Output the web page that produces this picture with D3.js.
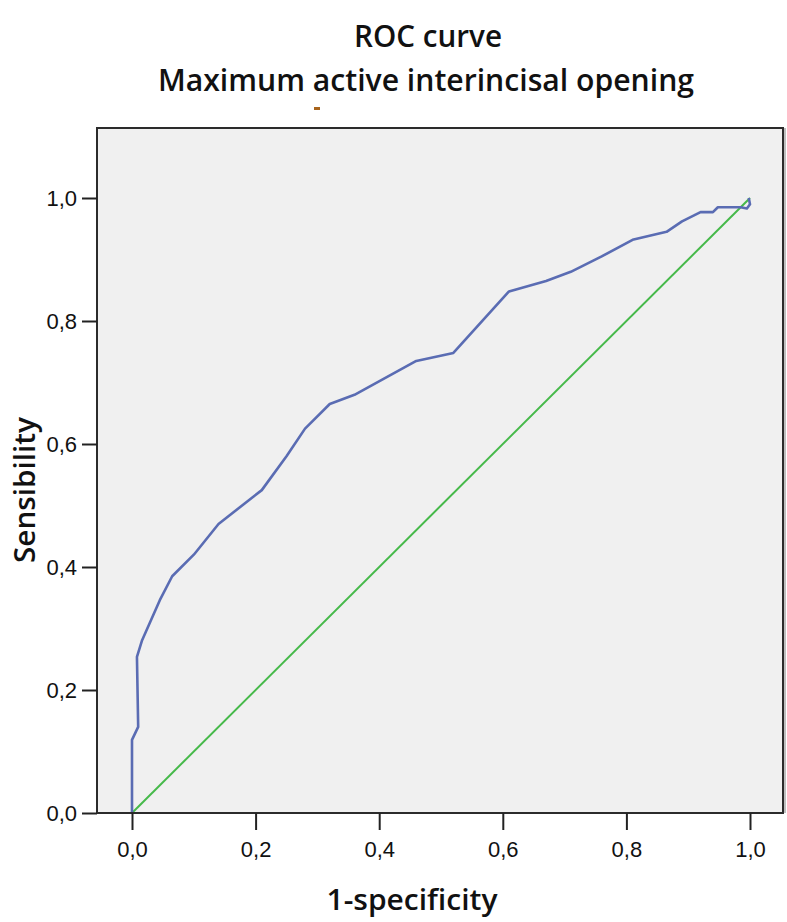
<!DOCTYPE html>
<html>
<head>
<meta charset="utf-8">
<script src="https://cdn.jsdelivr.net/npm/d3@7"></script>
<style>
  body { margin: 0; background: #fff; }
  svg text { fill: #111; }
</style>
</head>
<body>
<div id="chart"></div>
<script>
const WIDTH = 787, HEIGHT = 922;
const FRAME = { LEFT: 97, RIGHT: 783, TOP: 128, BOTTOM: 813 };

// ROC curve points (1-specificity, sensibility)
const rocX = [0, 0, 0.01, 0.008, 0.016, 0.045, 0.065, 0.10, 0.14, 0.21, 0.25, 0.28, 0.32, 0.36, 0.46, 0.52, 0.61, 0.67, 0.71, 0.76, 0.81, 0.865, 0.89, 0.92, 0.94, 0.948, 0.985, 0.995, 1.0, 0.998];
const rocY = [0, 0.119, 0.14, 0.254, 0.28, 0.346, 0.385, 0.42, 0.47, 0.525, 0.58, 0.625, 0.665, 0.68, 0.735, 0.748, 0.848, 0.865, 0.88, 0.905, 0.932, 0.945, 0.962, 0.977, 0.977, 0.985, 0.985, 0.983, 0.99, 1.0];
const refX = [0, 1];
const refY = [0, 1];
const tickValues = [0, 0.2, 0.4, 0.6, 0.8, 1.0];

const title1 = "ROC curve";
const title2 = "Maximum active interincisal opening";
const xTitle = "1-specificity";
const yTitle = "Sensibility";

const svg = d3.select("#chart").append("svg")
  .attr("width", WIDTH)
  .attr("height", HEIGHT);

// 0 sits at x=132 / y=813, 1 at x=750 / y=198
const x = d3.scaleLinear().domain([0, 1]).range([132, 750]);
const y = d3.scaleLinear().domain([0, 1]).range([813, 198]);

const fmt = v => d3.format(".1f")(v).replace(".", ",");

// plot background
svg.append("rect")
  .attr("x", FRAME.LEFT)
  .attr("y", FRAME.TOP)
  .attr("width", FRAME.RIGHT - FRAME.LEFT)
  .attr("height", FRAME.BOTTOM - FRAME.TOP)
  .attr("fill", "#f0f0f0");

const refData = refX.map((d, i) => [d, refY[i]]);
const rocData = rocX.map((d, i) => [d, rocY[i]]);
const line = d3.line().x(d => x(d[0])).y(d => y(d[1]));

// reference diagonal
svg.append("path")
  .datum(refData)
  .attr("d", line)
  .attr("fill", "none")
  .attr("stroke", "#46b94a")
  .attr("stroke-width", 2);

svg.append("path")
  .datum(rocData)
  .attr("d", line)
  .attr("fill", "none")
  .attr("stroke", "#5a6cb3")
  .attr("stroke-width", 2.6)
  .attr("stroke-linejoin", "round");

// frame
svg.append("rect")
  .attr("x", FRAME.LEFT)
  .attr("y", FRAME.TOP)
  .attr("width", FRAME.RIGHT - FRAME.LEFT)
  .attr("height", FRAME.BOTTOM - FRAME.TOP)
  .attr("fill", "none")
  .attr("stroke", "#2b2b2b")
  .attr("stroke-width", 2);
svg.append("line")
  .attr("x1", FRAME.RIGHT + 2).attr("x2", FRAME.RIGHT + 2)
  .attr("y1", FRAME.TOP).attr("y2", FRAME.BOTTOM)
  .attr("stroke", "#aaa").attr("stroke-width", 1.5);

// axes
const xAxis = d3.axisBottom(x).tickValues(tickValues).tickFormat(fmt).tickSize(17).tickPadding(11);
const yAxis = d3.axisLeft(y).tickValues(tickValues).tickFormat(fmt).tickSize(15).tickPadding(5);

const gx = svg.append("g").attr("transform", `translate(0,${FRAME.BOTTOM})`).call(xAxis);
const gy = svg.append("g").attr("transform", `translate(${FRAME.LEFT},0)`).call(yAxis);

[gx, gy].forEach(g => {
  g.select(".domain").remove();
  g.selectAll(".tick line").attr("stroke", "#222").attr("stroke-width", 2);
  g.selectAll(".tick text")
    .attr("font-family", "Liberation Sans, Arial, sans-serif")
    .attr("font-size", 22)
    .attr("fill", "#333");
});

// titles
svg.append("text")
  .attr("x", 428).attr("y", 47)
  .attr("text-anchor", "middle")
  .attr("font-family", "Open Sans, sans-serif")
  .attr("font-weight", 600)
  .attr("font-size", 31)
  .attr("textLength", 148)
  .attr("lengthAdjust", "spacingAndGlyphs")
  .text(title1);

svg.append("text")
  .attr("x", 426).attr("y", 91)
  .attr("text-anchor", "middle")
  .attr("font-family", "Open Sans, sans-serif")
  .attr("font-weight", 600)
  .attr("font-size", 31)
  .attr("textLength", 536)
  .attr("lengthAdjust", "spacingAndGlyphs")
  .text(title2);

// small orange mark under the title
svg.append("rect")
  .attr("x", 314).attr("y", 107)
  .attr("width", 6).attr("height", 3)
  .attr("fill", "#a8641c");

svg.append("text")
  .attr("x", 412).attr("y", 910)
  .attr("text-anchor", "middle")
  .attr("font-family", "Open Sans, sans-serif")
  .attr("font-weight", 600)
  .attr("font-size", 29)
  .attr("textLength", 171)
  .attr("lengthAdjust", "spacingAndGlyphs")
  .text(xTitle);

svg.append("text")
  .attr("transform", "translate(35,490) rotate(-90)")
  .attr("text-anchor", "middle")
  .attr("font-family", "Open Sans, sans-serif")
  .attr("font-weight", 600)
  .attr("font-size", 29)
  .attr("textLength", 146)
  .attr("lengthAdjust", "spacingAndGlyphs")
  .text(yTitle);
</script>
</body>
</html>
